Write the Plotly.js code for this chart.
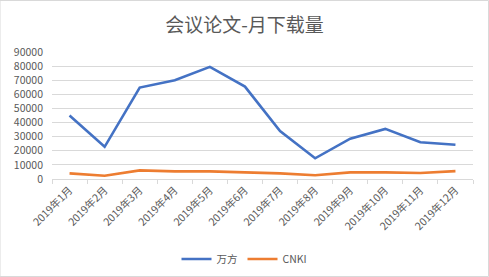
<!DOCTYPE html>
<html><head><meta charset="utf-8">
<script src="https://cdn.plot.ly/plotly-3.0.1.min.js"></script>
<style>html,body{margin:0;padding:0;background:#fff}#c{width:489px;height:277px}</style>
</head><body><div id="c"></div>
<script>
var months = ["2019年1月","2019年2月","2019年3月","2019年4月","2019年5月","2019年6月","2019年7月","2019年8月","2019年9月","2019年10月","2019年11月","2019年12月"];
var wanfang = [45000, 22800, 64800, 70000, 79500, 65500, 34000, 14700, 28600, 35500, 26000, 24300];
var cnki = [4000, 2300, 6100, 5400, 5400, 4800, 4000, 2700, 4700, 4700, 4200, 5600];
var yTicks = [0,10000,20000,30000,40000,50000,60000,70000,80000,90000];
var font = "'Noto Sans CJK SC', 'Liberation Sans', sans-serif";
var data = [
  {x: months, y: wanfang, name: "万方", type: "scatter", mode: "lines", line: {color: "#4472C4", width: 2.6}},
  {x: months, y: cnki, name: "CNKI", type: "scatter", mode: "lines", line: {color: "#ED7D31", width: 2.6}}
];
var layout = {
  width: 489, height: 277,
  margin: {l: 52, r: 16, t: 52, b: 98, autoexpand: false},
  paper_bgcolor: "#fff", plot_bgcolor: "#fff",
  font: {family: font, color: "#595959", size: 10},
  title: {text: "会议论文-月下载量", x: 0.5, xanchor: "center", y: 0.91, yanchor: "middle", font: {family: font, size: 19, color: "#595959"}},
  showlegend: true,
  legend: {orientation: "h", xref: "container", x: 0.5, xanchor: "center", y: -0.63, yanchor: "middle", itemwidth: 30, font: {size: 10.5, color: "#595959"}},
  xaxis: {
    type: "category", range: [-0.5, 11.5], tickangle: -45, showgrid: false, showline: true, linecolor: "#d9d9d9", linewidth: 1,
    ticks: "outside", tickson: "boundaries", ticklen: 4, tickcolor: "#d9d9d9", automargin: false,
    tickfont: {size: 10.5, color: "#595959"}, fixedrange: true
  },
  yaxis: {
    range: [0, 90000], tickvals: yTicks, ticktext: yTicks.map(String), showgrid: true, gridcolor: "#d9d9d9",
    zeroline: false, showline: false, ticks: "", automargin: false, tickfont: {size: 10.5, color: "#595959"}, ticklabelstandoff: 8
  },
  shapes: [{type: "rect", xref: "paper", yref: "paper", x0: -52/421, x1: 1 + 15.5/421, y0: -97.5/127, y1: 1 + 51.5/127, line: {color: "#d9d9d9", width: 1}}]
};
Plotly.newPlot("c", data, layout, {displayModeBar: false, staticPlot: true});
</script></body></html>
